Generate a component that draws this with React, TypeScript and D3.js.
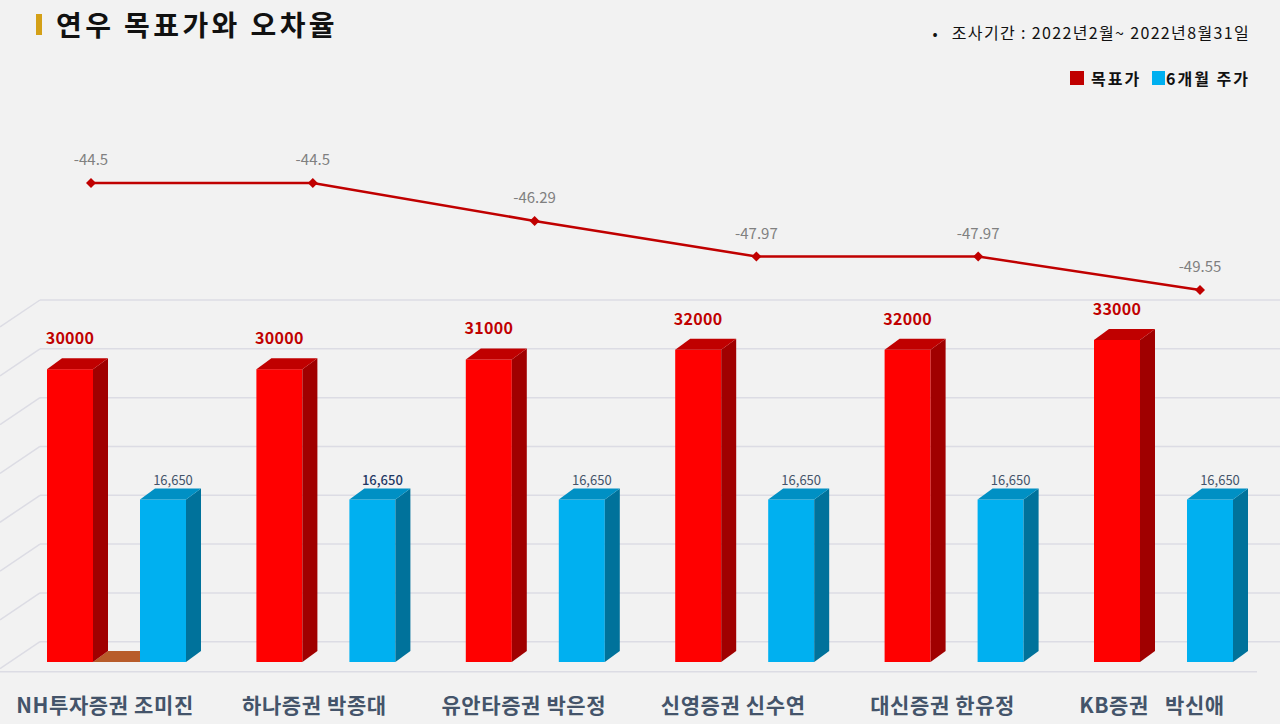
import { useEffect } from "react";
import * as d3 from "d3";

const categories = [
  "NH투자증권 조미진",
  "하나증권 박종대",
  "유안타증권 박은정",
  "신영증권 신수연",
  "대신증권 한유정",
  "KB증권   박신애",
];
const targetPrice = [30000, 30000, 31000, 32000, 32000, 33000];
const stockPrice = [16650, 16650, 16650, 16650, 16650, 16650];
const errorRate = [-44.5, -44.5, -46.29, -47.97, -47.97, -49.55];
const gridValues = [0, 5000, 10000, 15000, 20000, 25000, 30000, 35000];

const W = 1280;
const H = 724;
const FONT = "'Noto Sans CJK KR', 'Noto Sans', sans-serif";

export default function App() {
  useEffect(() => {
    document.body.style.margin = "0";
  }, []);

  const x = d3.scaleBand<string>().domain(categories).range([12, 12 + 6 * 209.4]);
  const yFront = d3.scaleLinear().domain([0, 35000]).range([662, 320.4]);
  const yBack = d3.scaleLinear().domain([0, 35000]).range([641.7, 300]);
  const xLine = d3.scalePoint<string>().domain(categories).range([91, 1200]);
  const yLine = d3.scaleLinear().domain([-44.5, -49.55]).range([183, 290]);

  const bw = 46;
  const dx = 15;
  const dy = 11;

  const bar3d = (left: number, v: number, front: string, side: string, top: string, key: string) => {
    const t = yFront(v);
    const b = yFront(0);
    const r = left + bw;
    return (
      <g key={key}>
        <rect x={left} y={t} width={bw} height={b - t} fill={front} />
        <polygon points={`${r},${t} ${r + dx},${t - dy} ${r + dx},${b - dy} ${r},${b}`} fill={side} />
        <polygon points={`${left},${t} ${left + dx},${t - dy} ${r + dx},${t - dy} ${r},${t}`} fill={top} />
      </g>
    );
  };

  const line = d3
    .line<number>()
    .x((_, i) => xLine(categories[i]) as number)
    .y((d) => yLine(d));

  const first = x(categories[0]) as number;

  return (
    <svg width={W} height={H} style={{ position: "absolute", left: 0, top: 0, display: "block" }} fontFamily={FONT}>
      <rect width={W} height={H} fill="#f2f2f2" />

      {/* title */}
      <rect x={36} y={14} width={6} height={21} fill="#d4a017" />
      <text x={56} y={36} fontSize={28} fontWeight="bold" fill="#111" letterSpacing={3.4}>
        연우 목표가와 오차율
      </text>

      <text x={935} y={39} fontSize={15} textAnchor="middle" fill="#111">•</text>
      <text x={1250} y={39} fontSize={16} textAnchor="end" fill="#111" letterSpacing={1.35}>
        조사기간 : 2022년2월~ 2022년8월31일
      </text>

      {/* legend */}
      <rect x={1070} y={71} width={14} height={14} fill="#c00000" />
      <text x={1091} y={85} fontSize={16} fontWeight="bold" fill="#111" letterSpacing={2}>목표가</text>
      <rect x={1152} y={71} width={13} height={14} fill="#00b0f0" />
      <text x={1166} y={85} fontSize={16} fontWeight="bold" fill="#111" letterSpacing={2}>6개월 주가</text>

      {/* back wall grid + side diagonals */}
      {gridValues.map((v) => (
        <g key={v} stroke="#dcdce4" strokeWidth={1.5} fill="none">
          <line x1={40} x2={W} y1={yBack(v)} y2={yBack(v)} />
          <line x1={40} x2={0} y1={yBack(v)} y2={yBack(v) + 27} />
        </g>
      ))}
      <line x1={0} x2={1257} y1={671.7} y2={671.7} stroke="#dcdce4" strokeWidth={1.5} />

      {/* floor segment */}
      <polygon
        points={`${first + 35 + bw},${yFront(0)} ${first + 35 + bw + dx},${yFront(0) - dy} ${first + 128},${yFront(0) - dy} ${first + 128},${yFront(0)}`}
        fill="#b85c2a"
      />

      {/* bars */}
      {categories.map((c, i) => {
        const b0 = x(c) as number;
        return (
          <g key={c}>
            {bar3d(b0 + 35, targetPrice[i], "#ff0000", "#a00000", "#c00000", "r" + i)}
            {bar3d(b0 + 128, stockPrice[i], "#00b0f0", "#00729b", "#0090c4", "b" + i)}
            <text
              x={b0 + 35 + bw / 2}
              y={yFront(targetPrice[i]) - dy - 14}
              fontSize={16}
              fontWeight="bold"
              fill="#c00000"
              textAnchor="middle"
              letterSpacing={0.3}
            >
              {targetPrice[i]}
            </text>
            <text
              x={b0 + 128 + bw / 2 + 10}
              y={yFront(stockPrice[i]) - dy - 3}
              fontSize={13}
              fill={i === 1 ? "#1f3864" : "#44546a"}
              fontWeight={i === 1 ? 500 : "normal"}
              textAnchor="middle"
            >
              {d3.format(",")(stockPrice[i])}
            </text>
            <text
              x={b0 + 93}
              y={713}
              fontSize={21}
              fontWeight="bold"
              fill="#44546a"
              textAnchor="middle"
              letterSpacing={0.6}
              style={{ whiteSpace: "pre" }}
            >
              {c}
            </text>
          </g>
        );
      })}

      {/* error-rate line */}
      <path d={line(errorRate) as string} fill="none" stroke="#c00000" strokeWidth={2.5} />
      {errorRate.map((v, i) => {
        const px = xLine(categories[i]) as number;
        const py = yLine(v);
        return (
          <g key={i}>
            <polygon points={`${px},${py - 5} ${px + 5},${py} ${px},${py + 5} ${px - 5},${py}`} fill="#c00000" />
            <text x={px} y={py - 18} fontSize={15} fill="#808080" textAnchor="middle">
              {v}
            </text>
          </g>
        );
      })}
    </svg>
  );
}
